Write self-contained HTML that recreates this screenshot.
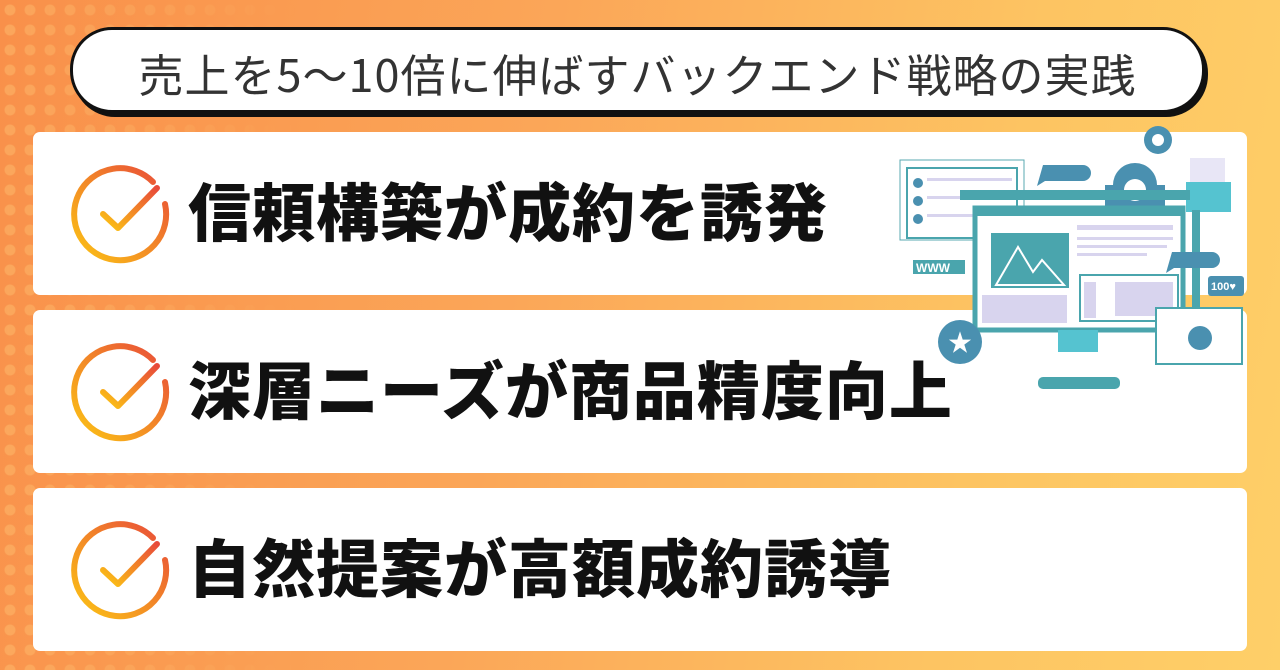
<!DOCTYPE html>
<html><head><meta charset="utf-8"><style>
body{margin:0;width:1280px;height:670px;overflow:hidden;position:relative;font-family:"Liberation Sans","Noto Sans CJK JP",sans-serif;
background:linear-gradient(100deg,#f9904a 0%,#fba658 40%,#fdc462 75%,#fecf68 100%);}
.dots{position:absolute;left:0;top:0;width:300px;height:670px;background-image:radial-gradient(circle,rgba(255,200,120,.4) 5px,transparent 6px);background-size:20px 20px;-webkit-mask-image:linear-gradient(90deg,#000,transparent);}
.title{position:absolute;left:70px;top:27px;width:1129px;height:80px;border:3px solid #111;border-radius:42px;background:#fff;box-shadow:3px 4px 0 #111;}
.title span{position:absolute;left:0;right:0;top:10px;text-align:center;font-size:45px;color:#333;letter-spacing:1px;font-family:"Noto Sans CJK JP",sans-serif;font-weight:400}
.card{position:absolute;left:33px;width:1214px;height:163px;background:#fff;border-radius:7px;}
.card .t{position:absolute;left:155px;top:38px;font-size:63px;font-weight:900;color:#111;font-family:"Noto Sans CJK JP",sans-serif;line-height:80px;letter-spacing:1px}
.card svg.c{position:absolute;left:38px;top:30px}
</style></head><body>
<div class="dots"></div>
<div class="title"><span>売上を5〜10倍に伸ばすバックエンド戦略の実践</span></div>
<svg width="0" height="0"><defs><linearGradient id="g" x1="0" y1="1" x2="1" y2="0"><stop offset="0" stop-color="#fcc514"/><stop offset="1" stop-color="#e84a3a"/></linearGradient></defs></svg>
<div class="card" style="top:132px"><svg class="c" width="104" height="104" viewBox="0 0 104 104"><path d="M82 20 A46 46 0 1 0 94 42" fill="none" stroke="url(#g)" stroke-width="6" stroke-linecap="round"/><path d="M32 52 L47 66 L86 26" fill="none" stroke="url(#g)" stroke-width="6" stroke-linecap="round" stroke-linejoin="round"/></svg><div class="t">信頼構築が成約を誘発</div></div>
<div class="card" style="top:310px"><svg class="c" width="104" height="104" viewBox="0 0 104 104"><path d="M82 20 A46 46 0 1 0 94 42" fill="none" stroke="url(#g)" stroke-width="6" stroke-linecap="round"/><path d="M32 52 L47 66 L86 26" fill="none" stroke="url(#g)" stroke-width="6" stroke-linecap="round" stroke-linejoin="round"/></svg><div class="t">深層ニーズが商品精度向上</div></div>
<div class="card" style="top:488px"><svg class="c" width="104" height="104" viewBox="0 0 104 104"><path d="M82 20 A46 46 0 1 0 94 42" fill="none" stroke="url(#g)" stroke-width="6" stroke-linecap="round"/><path d="M32 52 L47 66 L86 26" fill="none" stroke="url(#g)" stroke-width="6" stroke-linecap="round" stroke-linejoin="round"/></svg><div class="t">自然提案が高額成約誘導</div></div>
<svg style="position:absolute;left:880px;top:120px" width="380" height="280" viewBox="0 0 380 280">
<rect x="20" y="40" width="124" height="80" fill="none" stroke="#5aa8b0"/>
<rect x="27" y="48" width="110" height="70" fill="#fff" stroke="#4aa5ad" stroke-width="2"/>
<circle cx="38" cy="63" r="5" fill="#4a90b0"/><circle cx="38" cy="81" r="5" fill="#4a90b0"/><circle cx="38" cy="99" r="5" fill="#4a90b0"/>
<rect x="47" y="58" width="85" height="3" fill="#d8d4ee"/><rect x="47" y="76" width="85" height="3" fill="#d8d4ee"/><rect x="47" y="94" width="60" height="3" fill="#d8d4ee"/>
<path d="M163 45 h40 a8 8 0 0 1 0 16 h-38 l-8 5 z" fill="#4a90b0"/>
<circle cx="255" cy="65" r="22" fill="#4a90b0"/><rect x="225" y="65" width="60" height="25" fill="#4a90b0"/><circle cx="255" cy="70" r="11" fill="#fff"/>
<circle cx="278" cy="20" r="14" fill="#4a90b0"/><circle cx="278" cy="20" r="6" fill="#fff"/>
<rect x="310" y="38" width="35" height="30" fill="#e8e6f6"/><rect x="306" y="62" width="45" height="30" fill="#55c3d0"/>
<rect x="80" y="70" width="230" height="10" fill="#4aa5ad"/>
<rect x="312" y="90" width="8" height="100" fill="#4aa5ad"/>
<rect x="95" y="88" width="208" height="122" fill="#fff" stroke="#4aa5ad" stroke-width="5"/>
<rect x="95" y="88" width="208" height="8" fill="#4aa5ad"/>
<rect x="111" y="113" width="78" height="55" fill="#4aa5ad"/>
<path d="M116 165 L138 127 L153 152 L162 140 L184 165 Z" fill="none" stroke="#fff" stroke-width="2"/>
<rect x="197" y="105" width="96" height="5" fill="#d8d4ee"/><rect x="197" y="117" width="96" height="3" fill="#d8d4ee"/><rect x="197" y="125" width="90" height="3" fill="#d8d4ee"/><rect x="197" y="133" width="70" height="3" fill="#d8d4ee"/>
<rect x="200" y="155" width="98" height="46" fill="#fff" stroke="#4aa5ad" stroke-width="2"/><rect x="204" y="162" width="12" height="36" fill="#d8d4ee"/><rect x="235" y="162" width="58" height="34" fill="#d8d4ee"/>
<rect x="102" y="175" width="85" height="28" fill="#d8d4ee"/>
<rect x="33" y="140" width="52" height="14" fill="#4aa5ad"/><text x="36" y="152" font-size="12" font-weight="bold" fill="#fff" font-family="Liberation Sans">WWW</text>
<path d="M292 132 h40 a8 8 0 0 1 0 16 h-38 l-8 5 z" fill="#4a90b0"/>
<rect x="328" y="156" width="36" height="20" rx="3" fill="#4a90b0"/><text x="331" y="170" font-size="11" font-weight="bold" fill="#fff" font-family="Liberation Sans">100♥</text>
<rect x="276" y="188" width="86" height="56" fill="#fff" stroke="#4aa5ad" stroke-width="2"/><circle cx="320" cy="218" r="12" fill="#4a90b0"/>
<circle cx="80" cy="222" r="22" fill="#4a90b0"/><text x="68" y="231" font-size="24" fill="#fff">★</text>
<rect x="178" y="210" width="40" height="22" fill="#55c3d0"/><rect x="158" y="257" width="82" height="12" rx="5" fill="#4aa5ad"/>
</svg>
</body></html>
